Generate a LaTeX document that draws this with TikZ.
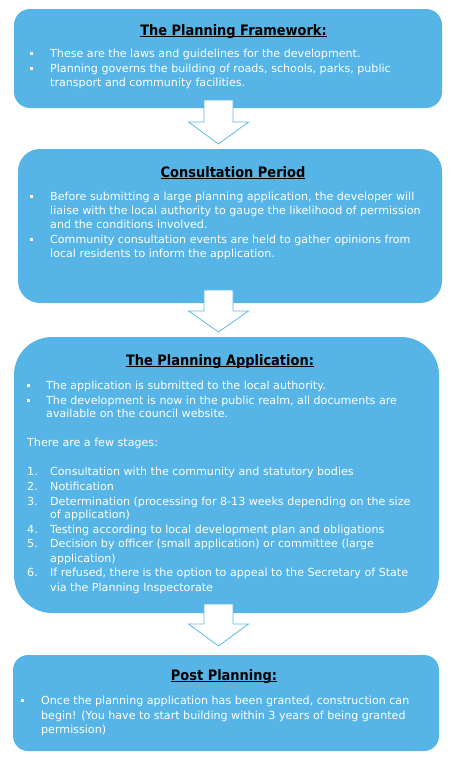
\documentclass[tikz,border=0pt]{standalone}
\usepackage{fontspec}
\setmainfont{DejaVu Sans}
\newfontfamily\titlefont[FakeStretch=0.9]{DejaVu Sans}
\definecolor{boxblue}{RGB}{86,181,230}
\definecolor{arrowblue}{RGB}{95,186,232}
\begin{document}
\begin{tikzpicture}[x=1pt,y=-1pt,
  box/.style={fill=boxblue, draw=none, inner sep=0pt},
  ttl/.style={font=\titlefont\bfseries\fontsize{14.4}{16}\selectfont, text=black, anchor=base, inner sep=0pt},
  body/.style={font=\fontsize{11.1}{13}\selectfont, text=white, anchor=base west, inner sep=0pt},
  bul/.style={fill=white, draw=none, inner sep=0pt, minimum size=2.8pt},
  blockarrow/.style={fill=white, draw=arrowblue, line width=0.8pt, line join=miter},
  uline/.style={draw=black, line width=0.8pt}]
\useasboundingbox (0,0) rectangle (453,761);
% boxes
\node[box, rounded corners=16pt, minimum width=428pt, minimum height=99pt] (b1) at (228,58.5) {};
\node[box, rounded corners=22pt, minimum width=424pt, minimum height=154pt] (b2) at (230,226) {};
\node[box, rounded corners=38pt, minimum width=425pt, minimum height=276pt] (b3) at (226.5,475) {};
\node[box, rounded corners=15pt, minimum width=426pt, minimum height=96pt] (b4) at (226,703) {};
% block arrows
\draw[blockarrow] (204,100) -- (233,100) -- (233,122) -- (248.5,122) -- (218.5,144) -- (188.5,122) -- (204,122) -- cycle;
\draw[blockarrow] (204,290) -- (233,290) -- (233,311) -- (248.5,311) -- (218.5,332) -- (188.5,311) -- (204,311) -- cycle;
\draw[blockarrow] (204,604) -- (233,604) -- (233,624) -- (248.5,624) -- (218.5,646) -- (188.5,624) -- (204,624) -- cycle;
% box 1
\node[ttl] (t1) at (233.5,35) {The Planning Framework:};
\draw[uline] ([yshift=-1.8pt]t1.base west) -- ([yshift=-1.8pt]t1.base east);
\node[bul] (b1p1) at (31.5,53.2) {};
\node[body] (b1l1) at (50,57) {These are the laws and guidelines for the development.};
\node[bul] (b1p2) at (31.5,68.2) {};
\node[body] (b1l2) at (50,72) {Planning governs the building of roads, schools, parks, public};
\node[body] (b1l3) at (50,86) {transport and community facilities.};
% box 2
\node[ttl] (t2) at (233,177) {Consultation Period};
\draw[uline] ([yshift=-1.8pt]t2.base west) -- ([yshift=-1.8pt]t2.base east);
\node[bul] (b2p1) at (31.5,196.2) {};
\node[body] (b2l1) at (50,200) {Before submitting a large planning application, the developer will};
\node[body] (b2l2) at (50,214.5) {liaise with the local authority to gauge the likelihood of permission};
\node[body] (b2l3) at (50,228.5) {and the conditions involved.};
\node[bul] (b2p2) at (31.5,239.5) {};
\node[body] (b2l4) at (50,243.3) {Community consultation events are held to gather opinions from};
\node[body] (b2l5) at (50,257.7) {local residents to inform the application.};
% box 3
\node[ttl] (t3) at (220,365) {The Planning Application:};
\draw[uline] ([yshift=-1.8pt]t3.base west) -- ([yshift=-1.8pt]t3.base east);
\node[bul] (b3p1) at (28.5,385.2) {};
\node[body] (b3l1) at (46,389) {The application is submitted to the local authority.};
\node[bul] (b3p2) at (28.5,400.2) {};
\node[body] (b3l2) at (46,404) {The development is now in the public realm, all documents are};
\node[body] (b3l3) at (46,417.3) {available on the council website.};
\node[body] (b3s) at (27,446.7) {There are a few stages:};
\node[body] (n1) at (27,475.7) {1.};
\node[body] (s1) at (50,475.7) {Consultation with the community and statutory bodies};
\node[body] (n2) at (27,490) {2.};
\node[body] (s2) at (50,490) {Notification};
\node[body] (n3) at (27,505) {3.};
\node[body] (s3a) at (50,505) {Determination (processing for 8-13 weeks depending on the size};
\node[body] (s3b) at (50,518.3) {of application)};
\node[body] (n4) at (27,533.3) {4.};
\node[body] (s4) at (50,533.3) {Testing according to local development plan and obligations};
\node[body] (n5) at (27,547.7) {5.};
\node[body] (s5a) at (50,547.7) {Decision by officer (small application) or committee (large};
\node[body] (s5b) at (50,562.3) {application)};
\node[body] (n6) at (27,576.7) {6.};
\node[body] (s6a) at (50,576.7) {If refused, there is the option to appeal to the Secretary of State};
\node[body] (s6b) at (50,591) {via the Planning Inspectorate};
% box 4
\node[ttl] (t4) at (224,680) {Post Planning:};
\draw[uline] ([yshift=-1.8pt]t4.base west) -- ([yshift=-1.8pt]t4.base east);
\node[bul] (b4p1) at (22.5,700.2) {};
\node[body] (b4l1) at (41,704) {Once the planning application has been granted, construction can};
\node[body] (b4l2) at (41,719) {begin! (You have to start building within 3 years of being granted};
\node[body] (b4l3) at (41,733) {permission)};
\end{tikzpicture}
\end{document}
